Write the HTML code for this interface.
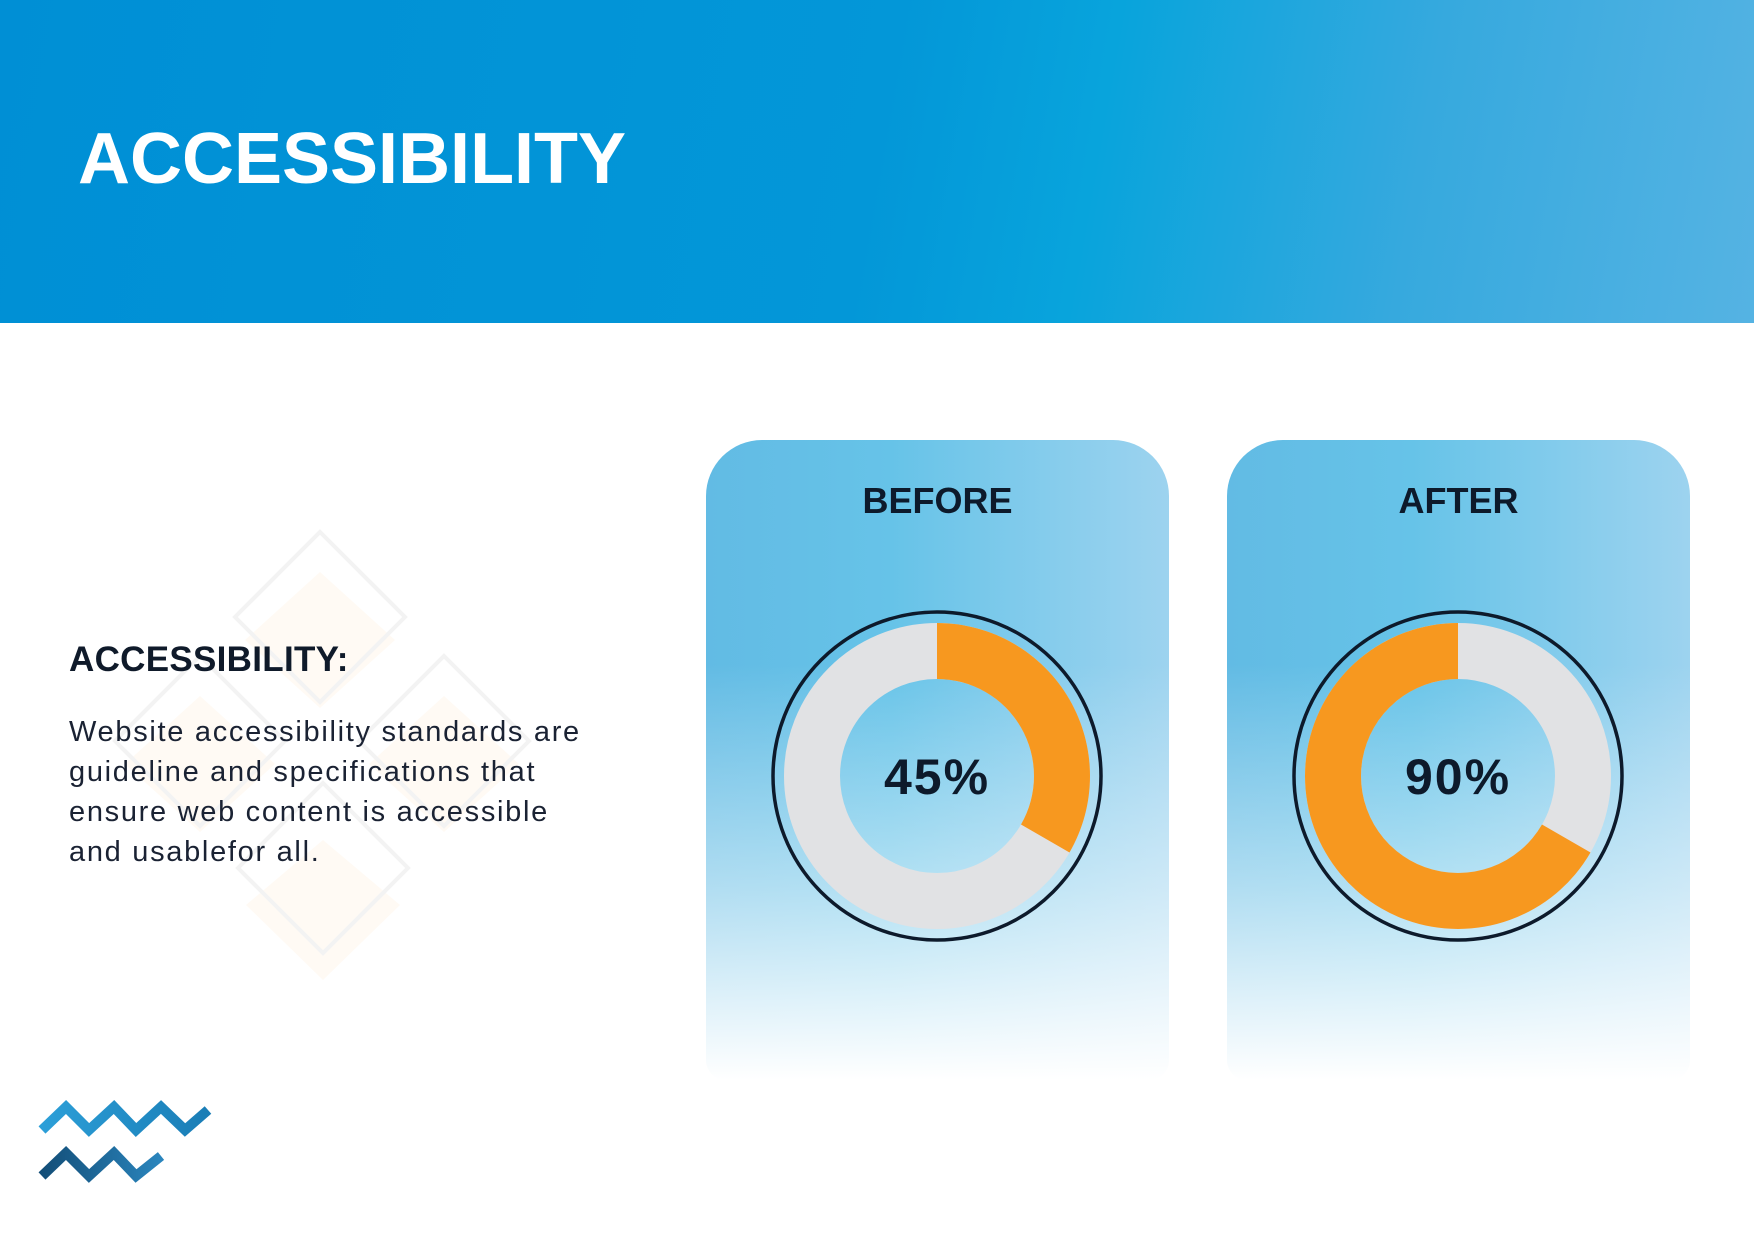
<!DOCTYPE html>
<html><head><meta charset="utf-8"><style>
html,body{margin:0;padding:0}
body{width:1754px;height:1240px;position:relative;background:#fff;font-family:"Liberation Sans",sans-serif;overflow:hidden}
.hdr{position:absolute;left:0;top:0;width:1754px;height:323px;background:linear-gradient(100deg,#008fd5 0%,#0397d8 50%,#08a4dc 62%,#36a9de 80%,#55b3e3 100%)}
.hdr h1{position:absolute;left:78px;top:118px;margin:0;color:#fff;font-size:72px;font-weight:bold;letter-spacing:0px}
.card{position:absolute;top:440px;width:463px;height:640px;border-radius:56px 56px 20px 20px;background:linear-gradient(180deg,rgba(255,255,255,0) 0%,rgba(255,255,255,0) 35%,rgba(255,255,255,.5) 70%,#fff 100%),linear-gradient(90deg,#62bbe4 0%,#66c3e8 40%,#9dd3ef 100%)}
.card .t{position:absolute;left:0;width:100%;top:40px;text-align:center;font-weight:bold;font-size:36px;color:#0d1a2b}
.lt{position:absolute;left:69px;color:#0f1a2a}
</style></head><body>
<div class="hdr"><h1>ACCESSIBILITY</h1></div>
<svg style="position:absolute;left:0;top:0" width="1754" height="1240">
<g fill="#fffaf4">
<path d="M320 572 L395 640 L320 708 L245 640Z"/>
<path d="M444 696 L519 764 L444 832 L369 764Z"/>
<path d="M323 840 L400 905 L323 980 L246 905Z"/>
<path d="M200 696 L275 764 L200 832 L125 764Z"/>
</g>
<g fill="none" stroke="#f3f3f3" stroke-width="4">
<path d="M320 532 L405 617 L320 702 L235 617Z"/>
<path d="M444 656 L529 741 L444 826 L359 741Z"/>
<path d="M323 783 L408 868 L323 953 L238 868Z"/>
<path d="M200 656 L285 741 L200 826 L115 741Z"/>
</g>
<defs>
<linearGradient id="g1" x1="0" x2="1"><stop offset="0" stop-color="#2c9fd8"/><stop offset="1" stop-color="#1a7db6"/></linearGradient>
<linearGradient id="g2" x1="0" x2="1"><stop offset="0" stop-color="#134e78"/><stop offset="1" stop-color="#2a85bd"/></linearGradient>
</defs>
<path d="M42 1130 L66 1107 L89 1130 L114 1107 L136 1130 L161 1107 L185 1130 L208 1110" fill="none" stroke="url(#g1)" stroke-width="10"/>
<path d="M42 1176 L66 1153 L89 1176 L114 1153 L136 1176 L161 1156" fill="none" stroke="url(#g2)" stroke-width="10"/>
</svg>
<div class="lt" style="top:640px;font-size:35px;font-weight:bold;letter-spacing:0.3px">ACCESSIBILITY:</div>
<div class="lt" style="top:712px;font-size:29px;line-height:40px;letter-spacing:1.7px;color:#1a2233">Website accessibility standards are<br>guideline and specifications that<br>ensure web content is accessible<br>and usablefor all.</div>

<div class="card" style="left:706px"><div class="t">BEFORE</div></div>
<div class="card" style="left:1227px"><div class="t">AFTER</div></div>

<svg style="position:absolute;left:0;top:0" width="1754" height="1240">
<g transform="translate(937,776)">
<circle r="164" fill="none" stroke="#0d1a2b" stroke-width="3.5"/>
<circle r="125" fill="none" stroke="#e1e2e4" stroke-width="56"/>
<path d="M0 -153 A153 153 0 0 1 132.5 76.5 L84 48.5 A97 97 0 0 0 0 -97Z" fill="#f7981f"/>
<text y="18" text-anchor="middle" font-size="50" font-weight="bold" fill="#0d1a2b" font-family="Liberation Sans,sans-serif" letter-spacing="2">45%</text>
</g>
<g transform="translate(1458,776)">
<circle r="164" fill="none" stroke="#0d1a2b" stroke-width="3.5"/>
<circle r="125" fill="none" stroke="#e1e2e4" stroke-width="56"/>
<path d="M0 -153 A153 153 0 1 0 132.5 76.5 L84 48.5 A97 97 0 1 1 0 -97Z" fill="#f7981f"/>
<text y="18" text-anchor="middle" font-size="50" font-weight="bold" fill="#0d1a2b" font-family="Liberation Sans,sans-serif" letter-spacing="2">90%</text>
</g>
</svg>
</body></html>
